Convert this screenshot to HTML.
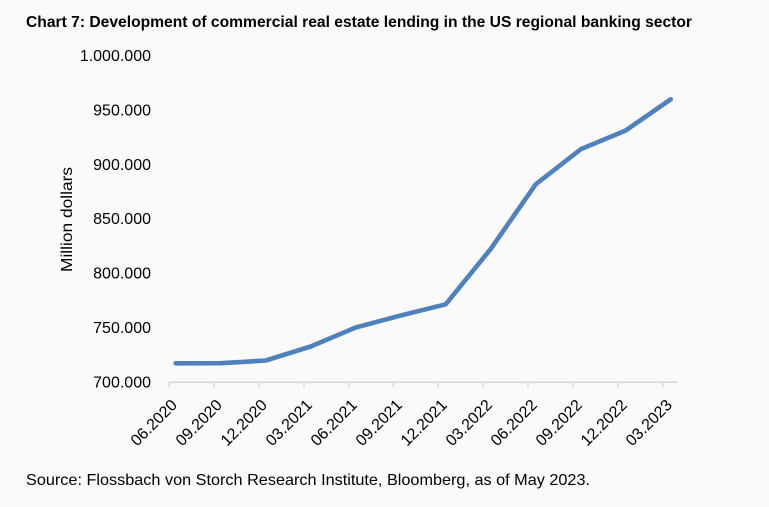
<!DOCTYPE html>
<html>
<head>
<meta charset="utf-8">
<style>
  html,body{margin:0;padding:0;background:#fafafa;}
  svg{display:block;}
  text{font-family:"Liberation Sans",sans-serif;fill:#000;}
</style>
</head>
<body>
<svg width="769" height="507" viewBox="0 0 769 507" xmlns="http://www.w3.org/2000/svg">
  <rect x="0" y="0" width="769" height="507" fill="#fafafa"/>
  <text x="26" y="27" font-size="16" font-weight="bold" textLength="666" lengthAdjust="spacingAndGlyphs">Chart 7: Development of commercial real estate lending in the US regional banking sector</text>

  <!-- Y axis labels -->
  <g font-size="16" text-anchor="end">
    <text x="151" y="61">1.000.000</text>
    <text x="151" y="115.5">950.000</text>
    <text x="151" y="169.8">900.000</text>
    <text x="151" y="224.2">850.000</text>
    <text x="151" y="278.6">800.000</text>
    <text x="151" y="333">750.000</text>
    <text x="151" y="387.4">700.000</text>
  </g>
  <text transform="translate(72,219.5) rotate(-90)" font-size="16" text-anchor="middle" textLength="105" lengthAdjust="spacingAndGlyphs">Million dollars</text>

  <!-- X axis -->
  <line x1="168.7" y1="382.2" x2="677.3" y2="382.2" stroke="#d9d9d9" stroke-width="1.6"/>
  <g stroke="#d9d9d9" stroke-width="1.6">
    <line x1="169" y1="382" x2="169" y2="387"/>
    <line x1="214" y1="382" x2="214" y2="387"/>
    <line x1="259" y1="382" x2="259" y2="387"/>
    <line x1="304" y1="382" x2="304" y2="387"/>
    <line x1="349" y1="382" x2="349" y2="387"/>
    <line x1="393.5" y1="382" x2="393.5" y2="387"/>
    <line x1="438" y1="382" x2="438" y2="387"/>
    <line x1="483" y1="382" x2="483" y2="387"/>
    <line x1="528" y1="382" x2="528" y2="387"/>
    <line x1="573" y1="382" x2="573" y2="387"/>
    <line x1="618" y1="382" x2="618" y2="387"/>
    <line x1="663" y1="382" x2="663" y2="387"/>
  </g>

  <g font-size="16" text-anchor="end">
    <text transform="translate(178,406) rotate(-45)">06.2020</text>
    <text transform="translate(223,406) rotate(-45)">09.2020</text>
    <text transform="translate(268,406) rotate(-45)">12.2020</text>
    <text transform="translate(313,406) rotate(-45)">03.2021</text>
    <text transform="translate(358,406) rotate(-45)">06.2021</text>
    <text transform="translate(403,406) rotate(-45)">09.2021</text>
    <text transform="translate(448,406) rotate(-45)">12.2021</text>
    <text transform="translate(493,406) rotate(-45)">03.2022</text>
    <text transform="translate(538,406) rotate(-45)">06.2022</text>
    <text transform="translate(583,406) rotate(-45)">09.2022</text>
    <text transform="translate(628,406) rotate(-45)">12.2022</text>
    <text transform="translate(673,406) rotate(-45)">03.2023</text>
  </g>

  <!-- Series -->
  <polyline fill="none" stroke="#4f81bd" stroke-width="4.6" stroke-linejoin="round" stroke-linecap="round"
    points="175.7,363.3 220.7,363.2 265.7,360.5 310.7,346.5 355.7,327.5 400.7,315.5 445.7,304.3 490.7,249 535.7,184.3 580.7,149.3 625.7,130.5 670.7,99.3"/>

  <text x="26" y="485" font-size="16" textLength="564" lengthAdjust="spacingAndGlyphs">Source: Flossbach von Storch Research Institute, Bloomberg, as of May 2023.</text>
</svg>
</body>
</html>
